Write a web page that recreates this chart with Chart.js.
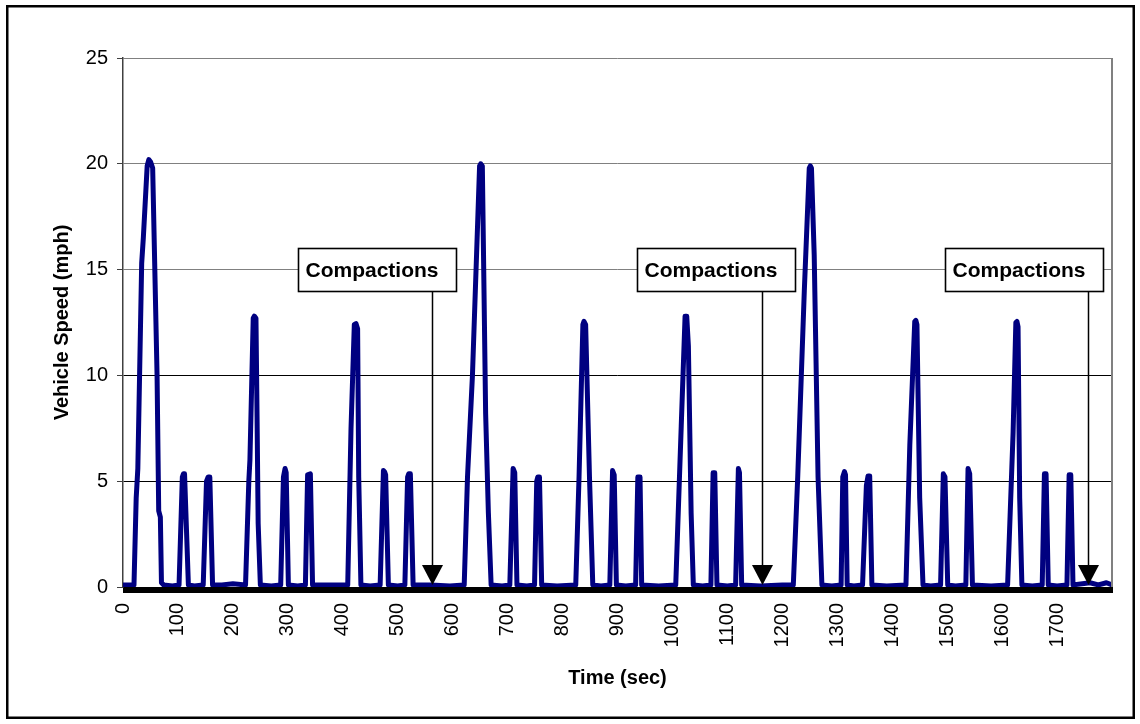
<!DOCTYPE html>
<html>
<head>
<meta charset="utf-8">
<title>Vehicle Speed</title>
<script src="https://cdn.jsdelivr.net/npm/chart.js@4/dist/chart.umd.min.js"></script>
<style>
  html, body { margin: 0; padding: 0; background: #fff; }
  #c { display: block; }
</style>
</head>
<body>
<canvas id="c" width="1140" height="724"></canvas>
<script>
// Vehicle speed trace, sampled at the turning points of each run.
const timeSec = [
  0, 12, 20, 24, 27, 34, 37, 44, 47, 50, 54, 62, 65, 68, 70, 74, 90,
  102, 108, 110, 112, 119, 130, 146, 152, 155, 158, 163, 180, 200,
  223, 229, 231, 237, 239, 242, 244, 246, 250, 270,
  287, 292, 295, 297, 301, 318, 332, 336, 341, 345, 380,
  409, 415, 421, 424, 427, 429, 433, 450,
  468, 474, 476, 478, 483, 500, 513, 518, 520, 523, 528, 560, 595,
  621, 627, 636, 649, 651, 654, 660, 665, 670, 690,
  704, 710, 713, 717, 735, 749, 753, 755, 758, 762, 790,
  824, 830, 837, 839, 842, 849, 855, 870,
  886, 891, 894, 898, 915, 933, 937, 941, 944, 975,
  1006, 1016, 1023, 1026, 1029, 1034, 1038, 1055,
  1070, 1074, 1077, 1081, 1100, 1115, 1120, 1122, 1126, 1160, 1200,
  1220, 1228, 1240, 1249, 1251, 1253, 1258, 1265, 1272, 1290,
  1307, 1310, 1313, 1315, 1318, 1330, 1346, 1353, 1356, 1359, 1363, 1390,
  1425, 1432, 1441, 1443, 1445, 1450, 1456, 1470,
  1488, 1493, 1496, 1501, 1515, 1534, 1538, 1541, 1546, 1580,
  1610, 1620, 1625, 1627, 1629, 1632, 1636, 1655,
  1673, 1677, 1680, 1684, 1700, 1718, 1722, 1725, 1729, 1760, 1775, 1790, 1800
];
const speedMph = [
  0.1, 0.1, 0.1, 4.2, 5.6, 15.3, 16.5, 19.9, 20.2, 20.1, 19.8, 10.0, 3.6, 3.3, 0.2, 0.1, 0.05,
  0.1, 5.2, 5.35, 5.35, 0.1, 0.05, 0.1, 5.0, 5.2, 5.2, 0.1, 0.1, 0.15,
  0.1, 5.0, 6.0, 12.7, 12.8, 12.7, 8.0, 3.0, 0.1, 0.05,
  0.1, 5.2, 5.6, 5.4, 0.1, 0.05, 0.1, 5.3, 5.35, 0.1, 0.1,
  0.1, 7.5, 12.4, 12.45, 12.2, 5.2, 0.1, 0.05,
  0.1, 5.5, 5.45, 5.3, 0.1, 0.05, 0.1, 5.2, 5.35, 5.35, 0.1, 0.1, 0.05,
  0.1, 5.2, 10.0, 19.9, 20.0, 19.9, 8.2, 3.5, 0.1, 0.05,
  0.1, 5.6, 5.4, 0.1, 0.05, 0.1, 5.0, 5.2, 5.2, 0.1, 0.05,
  0.1, 5.2, 12.4, 12.55, 12.4, 5.2, 0.1, 0.05,
  0.1, 5.5, 5.3, 0.1, 0.05, 0.1, 5.2, 5.2, 0.1, 0.05,
  0.1, 7.6, 12.8, 12.8, 11.4, 3.5, 0.1, 0.05,
  0.1, 5.4, 5.4, 0.1, 0.05, 0.1, 5.6, 5.4, 0.1, 0.05, 0.1,
  0.1, 5.2, 14.0, 19.8, 19.9, 19.8, 15.7, 5.2, 0.1, 0.05,
  0.1, 5.2, 5.45, 5.3, 0.1, 0.05, 0.1, 4.8, 5.25, 5.25, 0.1, 0.05,
  0.1, 6.7, 12.55, 12.6, 12.4, 4.2, 0.1, 0.05,
  0.1, 5.35, 5.2, 0.1, 0.05, 0.1, 5.6, 5.35, 0.1, 0.05,
  0.1, 7.3, 12.5, 12.55, 12.3, 4.2, 0.1, 0.05,
  0.1, 5.35, 5.35, 0.1, 0.05, 0.1, 5.3, 5.3, 0.1, 0.2, 0.1, 0.2, 0.1
];

// Axis ranges and tick labels
const timeRange = [0, 1800];
const timeLabelStep = 100;
const timeLabelLast = 1700;
const speedRange = [0, 25];
const speedStep = 5;

// "Compactions" call-outs: where each arrow points and where its label box starts (seconds)
const compactionTimes = [563, 1163, 1756];
const compactionBoxFrom = [318, 936, 1496];
const compactionText = 'Compactions';
const compactionBoxSpeed = [14.0, 16.0];   // bottom / top of the label box (mph)
const compactionTipSpeed = 0.1;

const FONT = "'Liberation Sans', Arial, Helvetica, sans-serif";

// One tick mark per second gives the solid band under the time axis
const timeMarks = [];
for (let t = timeRange[0]; t <= timeRange[1]; t += 1) timeMarks.push({ value: t });

const framePlugin = {
  id: 'frame',
  beforeDraw(chart) {
    const c = chart.ctx;
    c.save();
    c.fillStyle = '#fff';
    c.fillRect(0, 0, chart.width, chart.height);
    c.restore();
  },
  afterDraw(chart) {
    const c = chart.ctx;
    const a = chart.chartArea;
    c.save();
    // right edge of the plot area
    c.strokeStyle = '#808080';
    c.lineWidth = 2;
    c.beginPath();
    c.moveTo(a.right, a.top);
    c.lineTo(a.right, a.bottom);
    c.stroke();
    // outer frame
    c.strokeStyle = '#000';
    c.lineWidth = 2.5;
    c.strokeRect(7.25, 6.25, chart.width - 13.5, chart.height - 12.5);
    c.restore();
  }
};

const calloutPlugin = {
  id: 'callouts',
  afterDatasetsDraw(chart) {
    const c = chart.ctx;
    const xs = chart.scales.x, ys = chart.scales.y;
    c.save();
    c.font = 'bold 21px ' + FONT;
    const textW = c.measureText(compactionText).width;
    compactionTimes.forEach((t, i) => {
      const ax = Math.round(xs.getPixelForValue(t)) + 0.5;
      const tipY = ys.getPixelForValue(compactionTipSpeed);
      const boxTop = Math.round(ys.getPixelForValue(compactionBoxSpeed[1])) + 0.5;
      const boxBottom = Math.round(ys.getPixelForValue(compactionBoxSpeed[0])) + 0.5;
      const boxLeft = Math.round(xs.getPixelForValue(compactionBoxFrom[i])) + 0.5;
      const boxW = Math.round(textW + 25);
      const headH = 20, headHalf = 10.5;

      // arrow shaft and head
      c.strokeStyle = '#000';
      c.lineWidth = 1.5;
      c.beginPath();
      c.moveTo(ax, boxBottom);
      c.lineTo(ax, tipY - headH + 1);
      c.stroke();
      c.fillStyle = '#000';
      c.beginPath();
      c.moveTo(ax - headHalf, tipY - headH);
      c.lineTo(ax + headHalf, tipY - headH);
      c.lineTo(ax, tipY);
      c.closePath();
      c.fill();

      // label box
      c.fillStyle = '#fff';
      c.fillRect(boxLeft, boxTop, boxW, boxBottom - boxTop);
      c.lineWidth = 1.6;
      c.strokeRect(boxLeft, boxTop, boxW, boxBottom - boxTop);
      c.fillStyle = '#000';
      c.textAlign = 'left';
      c.textBaseline = 'middle';
      c.fillText(compactionText, boxLeft + 7, (boxTop + boxBottom) / 2 + 1);
    });
    c.restore();
  }
};

new Chart(document.getElementById('c'), {
  type: 'line',
  data: {
    datasets: [{
      data: timeSec.map((t, i) => ({ x: t, y: speedMph[i] })),
      borderColor: '#000080',
      borderWidth: 5,
      pointRadius: 0,
      tension: 0,
      fill: false,
      borderJoinStyle: 'round',
      borderCapStyle: 'round'
    }]
  },
  options: {
    responsive: false,
    animation: false,
    events: [],
    layout: { padding: { left: 0, top: 58, right: 28, bottom: 0 } },
    plugins: { legend: { display: false }, tooltip: { enabled: false } },
    scales: {
      x: {
        type: 'linear',
        min: timeRange[0],
        max: timeRange[1],
        afterBuildTicks: axis => { axis.ticks = timeMarks.map(m => ({ value: m.value })); },
        afterFit: axis => {
          axis.height = 137;
          axis.paddingLeft = 0;
          axis.paddingRight = 0;
        },
        grid: { drawOnChartArea: false, drawTicks: true, tickLength: 6, color: '#000', lineWidth: 1 },
        border: { display: true, color: '#000', width: 1 },
        ticks: {
          autoSkip: false,
          minRotation: 90,
          maxRotation: 90,
          padding: 10,
          color: '#000',
          font: { family: FONT, size: 20 },
          callback: v => (v % timeLabelStep === 0 && v <= timeLabelLast) ? String(v) : ''
        },
        title: {
          display: true,
          text: 'Time (sec)',
          color: '#000',
          font: { family: FONT, size: 20, weight: 'bold' },
          padding: { top: 0, bottom: 34 }
        }
      },
      y: {
        min: speedRange[0],
        max: speedRange[1],
        afterFit: axis => {
          axis.width = 123;
          axis.paddingTop = 0;
          axis.paddingBottom = 0;
        },
        grid: {
          color: ctx => (ctx.tick && ctx.tick.value >= 15) ? '#808080' : '#000',
          lineWidth: 1,
          tickLength: 6,
          tickColor: '#404040'
        },
        border: { display: true, color: '#404040', width: 1.5 },
        ticks: {
          stepSize: speedStep,
          padding: 9,
          color: '#000',
          font: { family: FONT, size: 20 }
        },
        title: {
          display: true,
          text: 'Vehicle Speed (mph)',
          color: '#000',
          font: { family: FONT, size: 20, weight: 'bold' },
          padding: { top: 50, bottom: 0 }
        }
      }
    }
  },
  plugins: [framePlugin, calloutPlugin]
});
</script>
</body>
</html>
